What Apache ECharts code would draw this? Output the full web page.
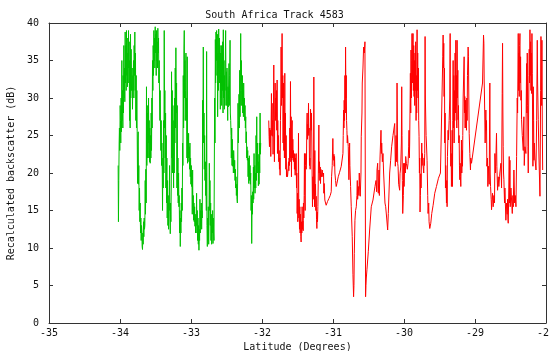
<!DOCTYPE html>
<html>
<head>
<meta charset="utf-8">
<script src="https://cdn.jsdelivr.net/npm/echarts/dist/echarts.min.js"></script>
<style>
  html, body {margin: 0; padding: 0; background: #fff;}
  #chart {width: 549px; height: 351px;}
</style>
</head>
<body>
<div id="chart"></div>
<script>
const xTicks = [-35, -34, -33, -32, -31, -30, -29, -28]
const yTicks = [0, 5, 10, 15, 20, 25, 30, 35, 40]

// first part of the track (green)
const greenLat = [
  -34.026, -34.022, -34.017, -34.012, -34.008, -34.003, -33.998, -33.993,
  -33.989, -33.984, -33.979, -33.974, -33.970, -33.965, -33.960, -33.956, -33.951, -33.946,
  -33.942, -33.937, -33.932, -33.927, -33.923, -33.918, -33.913, -33.909, -33.904, -33.899,
  -33.895, -33.890, -33.885, -33.880, -33.876, -33.871, -33.866, -33.862, -33.857, -33.852,
  -33.848, -33.843, -33.838, -33.833, -33.829, -33.824, -33.819, -33.815, -33.810, -33.805,
  -33.801, -33.796, -33.791, -33.786, -33.782, -33.777, -33.772, -33.768, -33.763, -33.758,
  -33.753, -33.749, -33.744, -33.739, -33.735, -33.730, -33.725, -33.720, -33.716, -33.711,
  -33.706, -33.702, -33.697, -33.692, -33.688, -33.683, -33.678, -33.674, -33.669, -33.664,
  -33.659, -33.655, -33.650, -33.645, -33.641, -33.636, -33.631, -33.627, -33.622, -33.617,
  -33.612, -33.608, -33.603, -33.598, -33.594, -33.589, -33.584, -33.580, -33.575, -33.570,
  -33.565, -33.561, -33.556, -33.551, -33.547, -33.542, -33.537, -33.533, -33.528, -33.523,
  -33.518, -33.514, -33.509, -33.504, -33.500, -33.495, -33.490, -33.485, -33.481, -33.476,
  -33.471, -33.467, -33.462, -33.457, -33.453, -33.448, -33.443, -33.438, -33.434, -33.429,
  -33.424, -33.420, -33.415, -33.410, -33.405, -33.401, -33.396, -33.391, -33.387, -33.382,
  -33.377, -33.372, -33.368, -33.363, -33.358, -33.354, -33.349, -33.344, -33.340, -33.335,
  -33.330, -33.325, -33.321, -33.316, -33.311, -33.307, -33.302, -33.297, -33.292, -33.288,
  -33.283, -33.278, -33.274, -33.269, -33.264, -33.260, -33.255, -33.250, -33.245, -33.241,
  -33.236, -33.231, -33.227, -33.222, -33.217, -33.213, -33.208, -33.203, -33.198, -33.194,
  -33.189, -33.184, -33.180, -33.175, -33.170, -33.166, -33.161, -33.156, -33.151, -33.147,
  -33.142, -33.137, -33.133, -33.128, -33.123, -33.118, -33.114, -33.109, -33.104, -33.100,
  -33.095, -33.090, -33.086, -33.081, -33.076, -33.071, -33.067, -33.062, -33.057, -33.053,
  -33.048, -33.043, -33.038, -33.034, -33.029, -33.024, -33.020, -33.015, -33.010, -33.006,
  -33.001, -32.996, -32.991, -32.987, -32.982, -32.977, -32.973, -32.968, -32.963, -32.959,
  -32.954, -32.949, -32.944, -32.940, -32.935, -32.930, -32.926, -32.921, -32.916, -32.912,
  -32.907, -32.902, -32.897, -32.893, -32.888, -32.883, -32.879, -32.874, -32.869, -32.864,
  -32.860, -32.855, -32.850, -32.846, -32.841, -32.836, -32.832, -32.827, -32.822, -32.817,
  -32.813, -32.808, -32.803, -32.798, -32.794, -32.789, -32.784, -32.780, -32.775, -32.770,
  -32.766, -32.761, -32.756, -32.751, -32.747, -32.742, -32.737, -32.733, -32.728, -32.723,
  -32.719, -32.714, -32.709, -32.704, -32.700, -32.695, -32.690, -32.686, -32.681, -32.676,
  -32.672, -32.667, -32.662, -32.657, -32.653, -32.648, -32.643, -32.639, -32.634, -32.629,
  -32.625, -32.620, -32.615, -32.610, -32.606, -32.601, -32.596, -32.592, -32.587, -32.582,
  -32.577, -32.573, -32.568, -32.563, -32.559, -32.554, -32.549, -32.545, -32.540, -32.535,
  -32.530, -32.526, -32.521, -32.516, -32.512, -32.507, -32.502, -32.498, -32.493, -32.488,
  -32.483, -32.479, -32.474, -32.469, -32.465, -32.460, -32.455, -32.450, -32.446, -32.441,
  -32.436, -32.432, -32.427, -32.422, -32.418, -32.413, -32.408, -32.403, -32.399, -32.394,
  -32.389, -32.385, -32.380, -32.375, -32.371, -32.366, -32.361, -32.356, -32.352, -32.347,
  -32.342, -32.338, -32.333, -32.328, -32.324, -32.319, -32.314, -32.309, -32.305, -32.300,
  -32.295, -32.291, -32.286, -32.281, -32.276, -32.272, -32.267, -32.262, -32.258, -32.253,
  -32.248, -32.244, -32.239, -32.234, -32.229, -32.225, -32.220, -32.215, -32.211, -32.206,
  -32.201, -32.196, -32.192, -32.187, -32.182, -32.178, -32.173, -32.168, -32.164, -32.159,
  -32.154, -32.149, -32.145, -32.140, -32.135, -32.131, -32.126, -32.121, -32.117, -32.112,
  -32.107, -32.102, -32.098, -32.093, -32.088, -32.084, -32.079, -32.074, -32.070, -32.065,
  -32.060, -32.055, -32.051, -32.046, -32.041, -32.037, -32.032, -32.027, -32.023, -32.018
]
const greenVal = [
  21, 13.5, 19, 24, 26, 23, 29, 27,
  24, 30, 25.5, 35, 27, 31, 26, 33, 28, 37,
  30, 34, 29.5, 38.8, 32, 37, 31, 39, 33, 38,
  31.5, 36, 32, 39, 34, 37.5, 27, 35, 26, 38.5,
  30, 36.5, 31, 32, 34, 28.5, 33, 31, 35, 30,
  37, 33, 38.8, 31, 36, 27, 33, 26, 31, 25.5,
  18.6, 24, 25.5, 18.5, 21, 15, 18, 13.5, 16, 12,
  14, 11, 13, 12, 10.2, 9.8, 12, 10.5, 13.5, 11.5,
  14, 12.5, 13, 19, 14.5, 20.5, 16, 31.5, 21, 29,
  22, 28, 22, 30, 24, 27, 21.5, 26, 21.3, 25,
  22, 28, 23, 30, 26, 35, 31, 37, 33, 39,
  35, 38, 34, 39.5, 36, 38.5, 33, 39, 35, 37.5,
  34, 39.3, 36, 38, 32, 35, 30, 27, 31, 26,
  23, 27, 21, 24, 20.5, 15, 22, 18, 27, 20,
  39, 26, 31, 22, 28, 18, 25, 16, 22, 14,
  19, 13, 17, 12.5, 16, 15, 21, 14, 11.9, 16,
  13.5, 18, 33.5, 22, 31, 20, 29, 24, 18, 27,
  20, 30, 24, 34, 26, 36.7, 28, 32, 18, 29,
  17, 22, 16, 20, 15.5, 17, 12, 15, 10.2, 14,
  12, 16, 13.5, 18, 15, 24, 21, 33, 26, 36,
  39, 30, 35, 27, 31, 36, 27, 30, 22, 35.5,
  21.3, 25, 22, 25.3, 21.5, 23.5, 20.5, 24, 19.5, 22,
  18.5, 21, 18.2, 20, 14.5, 20.4, 15, 17, 13.7, 16,
  13.5, 15.5, 12.9, 14.5, 12, 14, 13, 17.3, 12, 15,
  11, 14, 10.5, 13, 9.7, 12.5, 11, 16.5, 12, 15,
  13, 16, 12.5, 15, 14, 29.7, 24.6, 36.8, 24, 28,
  20.5, 25, 19, 21.5, 17, 20, 15, 36.2, 13, 10.2,
  14, 11, 15.5, 10.5, 13, 21.3, 15, 19, 13, 16,
  11, 14.5, 10.5, 13, 12, 15, 10.6, 14, 12, 11,
  20, 30, 24, 37.8, 32, 38.8, 35, 39, 33, 38.5,
  27.5, 36, 31, 39.2, 34, 38, 32, 37, 28.5, 36,
  30, 37, 29, 35, 31, 37.5, 28, 39.1, 30, 35,
  28.5, 33, 29, 36, 39, 31, 33.5, 29, 34, 30,
  27, 31.5, 28.8, 32, 34.6, 29, 33, 37.7, 28, 27,
  25, 22, 26, 21, 24.5, 20.9, 22.5, 20, 23, 21.5,
  20, 21.7, 19, 20.5, 18, 19.5, 17, 18.5, 16.5, 16,
  20, 29.3, 24, 27, 30.5, 26, 33.7, 27.5, 31, 38.6,
  29, 35, 31, 29, 33, 28, 31, 27.5, 32, 28,
  30, 27, 29, 26, 27.5, 24, 25.5, 22, 23.5, 21.7,
  23, 19.5, 22, 18.6, 20, 22.3, 19, 21, 18.5, 20,
  15, 17, 10.6, 15.5, 14.5, 17.5, 16, 20.8, 16.5, 22.6,
  18, 21, 17.3, 20, 18, 25, 19, 27.5, 21, 24,
  20, 22.5, 18.3, 21.5, 18.5, 24, 20, 28, 22.5, 24
]

// second part of the track (red)
const redLat = [
  -31.905, -31.900, -31.895, -31.891, -31.886, -31.881, -31.876, -31.872, -31.867, -31.862,
  -31.858, -31.853, -31.848, -31.844, -31.839, -31.834, -31.829, -31.825, -31.820, -31.815,
  -31.811, -31.806, -31.801, -31.797, -31.792, -31.787, -31.782, -31.778, -31.773, -31.768,
  -31.764, -31.759, -31.754, -31.750, -31.745, -31.740, -31.735, -31.731, -31.726, -31.721,
  -31.717, -31.712, -31.707, -31.703, -31.698, -31.693, -31.689, -31.684, -31.679, -31.674,
  -31.670, -31.665, -31.660, -31.655, -31.651, -31.641, -31.632, -31.627, -31.622, -31.618,
  -31.613, -31.608, -31.604, -31.599, -31.594, -31.590, -31.585, -31.580, -31.575, -31.571,
  -31.566, -31.561, -31.557, -31.552, -31.547, -31.543, -31.538, -31.533, -31.528, -31.524,
  -31.519, -31.514, -31.510, -31.505, -31.500, -31.496, -31.491, -31.486, -31.481, -31.477,
  -31.472, -31.467, -31.463, -31.458, -31.453, -31.449, -31.444, -31.439, -31.435, -31.430,
  -31.425, -31.420, -31.416, -31.411, -31.406, -31.402, -31.397, -31.392, -31.388, -31.383,
  -31.378, -31.373, -31.369, -31.364, -31.359, -31.355, -31.350, -31.345, -31.341, -31.336,
  -31.331, -31.326, -31.322, -31.317, -31.312, -31.308, -31.303, -31.298, -31.294, -31.289,
  -31.284, -31.279, -31.274, -31.270, -31.265, -31.260, -31.256, -31.251, -31.246, -31.242,
  -31.237, -31.232, -31.227, -31.223, -31.218, -31.213, -31.209, -31.204, -31.199, -31.195,
  -31.190, -31.185, -31.180, -31.176, -31.171, -31.166, -31.162, -31.152, -31.143, -31.133,
  -31.129, -31.124, -31.115, -31.105, -31.096, -31.077, -31.058, -31.039, -31.025, -31.020,
  -31.011, -31.002, -30.997, -30.992, -30.987, -30.983, -30.978, -30.973, -30.964, -30.955,
  -30.945, -30.926, -30.907, -30.884, -30.860, -30.856, -30.851, -30.846, -30.842, -30.837,
  -30.832, -30.827, -30.823, -30.818, -30.813, -30.809, -30.804, -30.799, -30.795, -30.785,
  -30.776, -30.766, -30.762, -30.752, -30.743, -30.729, -30.719, -30.710, -30.705, -30.700,
  -30.691, -30.682, -30.672, -30.663, -30.658, -30.653, -30.644, -30.635, -30.630, -30.625,
  -30.616, -30.606, -30.602, -30.592, -30.588, -30.578, -30.569, -30.559, -30.550,
  -30.541, -30.536, -30.531, -30.522, -30.503, -30.484, -30.461, -30.437, -30.409, -30.394,
  -30.385, -30.380, -30.371, -30.366, -30.362, -30.352, -30.347, -30.338, -30.324, -30.319,
  -30.314, -30.305, -30.296, -30.287, -30.268, -30.258, -30.244, -30.230, -30.221, -30.202,
  -30.188, -30.174, -30.155, -30.131, -30.127, -30.122, -30.112, -30.103, -30.098, -30.093,
  -30.089, -30.084, -30.075, -30.061, -30.056, -30.046, -30.037, -30.032, -30.028, -30.023,
  -30.018, -30.009, -30.004, -29.999, -29.990, -29.981, -29.976, -29.967, -29.953, -29.943,
  -29.934, -29.929, -29.924, -29.920, -29.910, -29.905, -29.901, -29.896, -29.891, -29.887,
  -29.882, -29.877, -29.873, -29.868, -29.863, -29.858, -29.854, -29.849, -29.844, -29.840,
  -29.835, -29.830, -29.826, -29.821, -29.816, -29.811, -29.807, -29.802, -29.797, -29.793,
  -29.788, -29.783, -29.779, -29.774, -29.769, -29.764, -29.760, -29.750, -29.746, -29.741,
  -29.731, -29.722, -29.717, -29.713, -29.708, -29.703, -29.699, -29.694, -29.689, -29.684,
  -29.675, -29.666, -29.661, -29.652, -29.647, -29.637, -29.623, -29.609, -29.590, -29.567,
  -29.543, -29.515, -29.487, -29.482, -29.454, -29.449, -29.445, -29.440,
  -29.435, -29.430, -29.426, -29.421, -29.416, -29.412, -29.402, -29.397, -29.393, -29.388,
  -29.379, -29.374, -29.364, -29.355, -29.350, -29.346, -29.341, -29.336, -29.332, -29.327,
  -29.322, -29.317, -29.313, -29.308, -29.303, -29.299, -29.294, -29.289, -29.285, -29.280,
  -29.275, -29.270, -29.266, -29.261, -29.256, -29.252, -29.247, -29.242, -29.238, -29.233,
  -29.228, -29.223, -29.219, -29.214, -29.209, -29.205, -29.200, -29.195, -29.191, -29.186,
  -29.181, -29.176, -29.172, -29.167, -29.153, -29.148, -29.144, -29.139, -29.134, -29.129,
  -29.125, -29.120, -29.115, -29.111, -29.106, -29.097, -29.092, -29.087, -29.082, -29.073,
  -29.064, -29.059, -29.049, -28.894, -28.880, -28.875, -28.871,
  -28.866, -28.857, -28.847, -28.843, -28.838, -28.833, -28.824, -28.819, -28.809, -28.800,
  -28.791, -28.786, -28.781, -28.772, -28.767, -28.758, -28.753, -28.744, -28.734, -28.725,
  -28.720, -28.711, -28.697, -28.692, -28.682, -28.673, -28.664, -28.654, -28.650, -28.635,
  -28.626, -28.617, -28.612, -28.607, -28.603, -28.598, -28.593, -28.584, -28.579, -28.565,
  -28.555, -28.551, -28.546, -28.541, -28.537, -28.532, -28.527, -28.518, -28.513, -28.508,
  -28.504, -28.494, -28.485, -28.475, -28.466, -28.461, -28.452, -28.442, -28.433, -28.423,
  -28.414, -28.405, -28.400, -28.391, -28.386, -28.381, -28.377, -28.372, -28.367, -28.363,
  -28.358, -28.353, -28.348, -28.344, -28.334, -28.320, -28.316, -28.311, -28.306, -28.297,
  -28.283, -28.278, -28.273, -28.269, -28.264, -28.259, -28.254, -28.250, -28.245, -28.240,
  -28.236, -28.231, -28.226, -28.221, -28.217, -28.212, -28.207, -28.203, -28.198, -28.193,
  -28.188, -28.184, -28.179, -28.174, -28.170, -28.165, -28.156, -28.141, -28.132, -28.123,
  -28.118, -28.109, -28.099, -28.085, -28.080, -28.076, -28.071, -28.066, -28.062, -28.057, -28.052, -28.047
]
const redVal = [
  27, 24.9, 23.5, 26, 24, 25.7, 22.2, 26, 30.6, 25,
  29.3, 24.9, 27, 22.5, 28, 34.4, 26, 21.5, 28, 32,
  27, 30, 27.5, 31, 25.7, 32.4, 22.6, 27, 23, 25,
  21.5, 23, 20.5, 22, 19.7, 27, 30, 36.8, 29, 34,
  38.6, 30, 33, 24, 32, 23, 28, 22, 33.3, 22,
  28, 20.5, 25, 19.5, 20.5, 19.5, 20.5, 21.5, 20.3, 22,
  21, 26, 21.5, 32.2, 22, 27.5, 19.5, 26, 27, 22,
  24.5, 21.7, 23, 21.5, 22.6, 20.5, 22.5, 19.7, 22, 20.3,
  22.6, 18, 20, 14.6, 17.3, 13.5, 16, 25.3, 14, 16.5,
  12.5, 15.5, 12, 14.5, 11.5, 10.8, 13.5, 12, 15.5, 12.5,
  13.6, 12.3, 16, 14, 17, 22.6, 17, 15, 21, 22.6,
  20.5, 22, 26.4, 28, 24.5, 26.5, 25.3, 29.3, 25, 26,
  21, 22, 20.5, 28.5, 27.5, 25.7, 28, 24, 20, 15.5,
  19.5, 16.5, 18, 32.8, 20, 15.5, 23, 17, 18.5, 15,
  16.9, 13.8, 12.6, 14.8, 13.5, 15.5, 18, 22, 26.4, 20,
  21.5, 19, 20.8, 18.6, 20.5, 20, 19.5, 20.4, 19.5, 20,
  17.3, 18.6, 16.4, 16, 15.7, 16.2, 16.6, 17, 17.5, 19.5,
  21, 24.6, 22, 21.7, 22.5, 20.9, 22.2, 20, 19, 18.2,
  18.6, 19.5, 20.1, 20.9, 22.6, 25, 28.4, 26, 29.7, 27,
  33, 28, 36.8, 30, 33, 27, 25.7, 24, 25, 23.5,
  19.1, 24, 21, 18.2, 15.5, 11.5, 6.5, 3.5, 5, 9.3,
  13.7, 15, 15.5, 17, 19, 16.5, 18.2, 17, 20, 18,
  16.9, 20, 24.9, 28, 32, 34, 36.8, 36, 37.5,
  3.5, 5, 6, 7.1, 9.5, 12.4, 15.5, 16.4, 18.2, 19,
  17.5, 20.4, 21.3, 18, 17.3, 20.4, 17, 22, 25.7, 22.6,
  24, 21.5, 22.6, 20, 16, 15.5, 14, 12.4, 14.6, 20,
  21.7, 23.5, 25, 26.6, 24, 20.9, 25, 21.5, 32, 26,
  21.3, 20.9, 18.5, 17.7, 19.9, 20.8, 24, 31.5, 25, 19,
  14.6, 17, 21.3, 18.2, 21.3, 20, 22.2, 21.3, 20.5, 21.3,
  23.5, 25.7, 22, 24, 33.3, 28, 36.4, 30, 35, 38.6,
  32, 36, 38.6, 31, 37, 30.2, 35, 29, 36, 31,
  37.5, 27, 33, 28, 39.1, 31, 36, 30, 34, 27,
  24.9, 20, 22, 14.8, 17, 19.9, 18, 24, 21, 22.6,
  21, 20, 22, 21, 22.6, 38.2, 30, 30.2, 25, 24,
  21.7, 17, 14.6, 16, 13.5, 12.6, 13.3, 14.6, 15.7, 17.3,
  18.2, 19.3, 20, 22, 35.5, 38.4, 34, 37.3,
  30.2, 34, 24, 28, 18, 21, 16, 19, 15.5, 22.2,
  25.7, 24.4, 27, 30, 38.6, 24, 20.9, 22.6, 18.2, 21,
  25.7, 18.2, 27, 35, 26, 33, 24, 31, 27, 36,
  28, 37.7, 29, 33, 26, 37.7, 30, 33.7, 27.1, 29,
  24, 25, 21, 19.1, 21.3, 19.5, 18.2, 21, 24.4, 20,
  23, 20.9, 25, 30, 35.5, 28, 30.2, 26, 29.7, 26,
  28.4, 25.7, 30, 27, 33, 36.8, 35.5, 30, 25.3, 22.6,
  20.4, 22, 21.3, 32, 38.4, 37.3, 32.4,
  30, 24, 28.4, 25.7, 27, 20.9, 22, 18.2, 20.9, 18.5,
  32, 20, 18.2, 16.5, 15.1, 15.1, 17.3, 15.5, 17, 16,
  22.6, 20, 25.3, 20.9, 17.7, 19.5, 18.2, 19.5, 20, 21.3,
  18, 30.6, 37.3, 28, 23.5, 20, 19.1, 16, 18, 13.7,
  16, 15.5, 14.5, 16.5, 14, 13.3, 16, 22.2, 16, 21.7,
  15.5, 18, 16.4, 14.6, 17, 15.5, 20.4, 16, 17, 15.5,
  22.2, 30, 28, 38.6, 31, 36, 30.2, 37, 38.6, 32,
  35.5, 29.7, 31, 27.1, 25, 23, 26, 27.5, 21, 23.5,
  22.6, 30, 34.6, 28, 36, 29, 23.5, 20, 28, 33,
  36.5, 32, 39.1, 33, 37.5, 31, 36, 30.6, 38.6, 33.3,
  26, 20.9, 31.5, 27, 21.7, 24, 22, 20.4, 27, 37.7,
  32, 27.1, 22, 16.9, 24, 31, 38.2, 32, 29, 37.7, 26, 20.4
]

const font = 'DejaVu Sans Mono'
const axisColor = '#333'
const textColor = '#111'

const chart = echarts.init(document.getElementById('chart'))

const pairs = (lat, val) => lat.map((x, i) => [x, val[i]])

const mirrorAxis = (position, min, max, interval) => ({
  type: 'value',
  position,
  min, max, interval,
  axisLine: {show: true, onZero: false, lineStyle: {color: axisColor, width: 1}},
  axisTick: {show: true, inside: true, length: 4, lineStyle: {color: axisColor}},
  axisLabel: {show: false},
  splitLine: {show: false}
})

chart.setOption({
  animation: false,
  title: {
    text: 'South Africa Track 4583',
    left: 'center',
    top: 5,
    textStyle: {fontFamily: font, fontSize: 10, fontWeight: 'normal', color: textColor}
  },
  grid: {left: 49, right: 3, top: 23, bottom: 28, containLabel: false, outerBoundsMode: 'none'},
  xAxis: [
    {
      type: 'value',
      position: 'bottom',
      min: xTicks[0],
      max: xTicks[xTicks.length - 1],
      interval: 1,
      name: 'Latitude (Degrees)',
      nameLocation: 'middle',
      nameGap: 17,
      nameTextStyle: {fontFamily: font, fontSize: 10, color: textColor},
      axisLine: {show: true, onZero: false, lineStyle: {color: axisColor, width: 1}},
      axisTick: {show: true, inside: true, length: 4, lineStyle: {color: axisColor}},
      axisLabel: {margin: 5, fontFamily: font, fontSize: 10, color: textColor,
        showMinLabel: true, showMaxLabel: true, hideOverlap: false},
      splitLine: {show: false}
    },
    mirrorAxis('top', xTicks[0], xTicks[xTicks.length - 1], 1)
  ],
  yAxis: [
    {
      type: 'value',
      position: 'left',
      min: yTicks[0],
      max: yTicks[yTicks.length - 1],
      interval: 5,
      name: 'Recalculated backscatter (dB)',
      nameLocation: 'middle',
      nameGap: 28,
      nameTextStyle: {fontFamily: font, fontSize: 10, color: textColor},
      axisLine: {show: true, onZero: false, lineStyle: {color: axisColor, width: 1}},
      axisTick: {show: true, inside: true, length: 4, lineStyle: {color: axisColor}},
      axisLabel: {margin: 10, fontFamily: font, fontSize: 10, color: textColor},
      splitLine: {show: false}
    },
    mirrorAxis('right', yTicks[0], yTicks[yTicks.length - 1], 5)
  ],
  series: [
    {
      type: 'line',
      data: pairs(greenLat, greenVal),
      showSymbol: false,
      symbol: 'none',
      lineStyle: {color: '#00c000', width: 1},
      itemStyle: {color: '#00c000'}
    },
    {
      type: 'line',
      data: pairs(redLat, redVal),
      showSymbol: false,
      symbol: 'none',
      lineStyle: {color: '#ff0000', width: 1},
      itemStyle: {color: '#ff0000'}
    }
  ]
})
</script>
</body>
</html>
